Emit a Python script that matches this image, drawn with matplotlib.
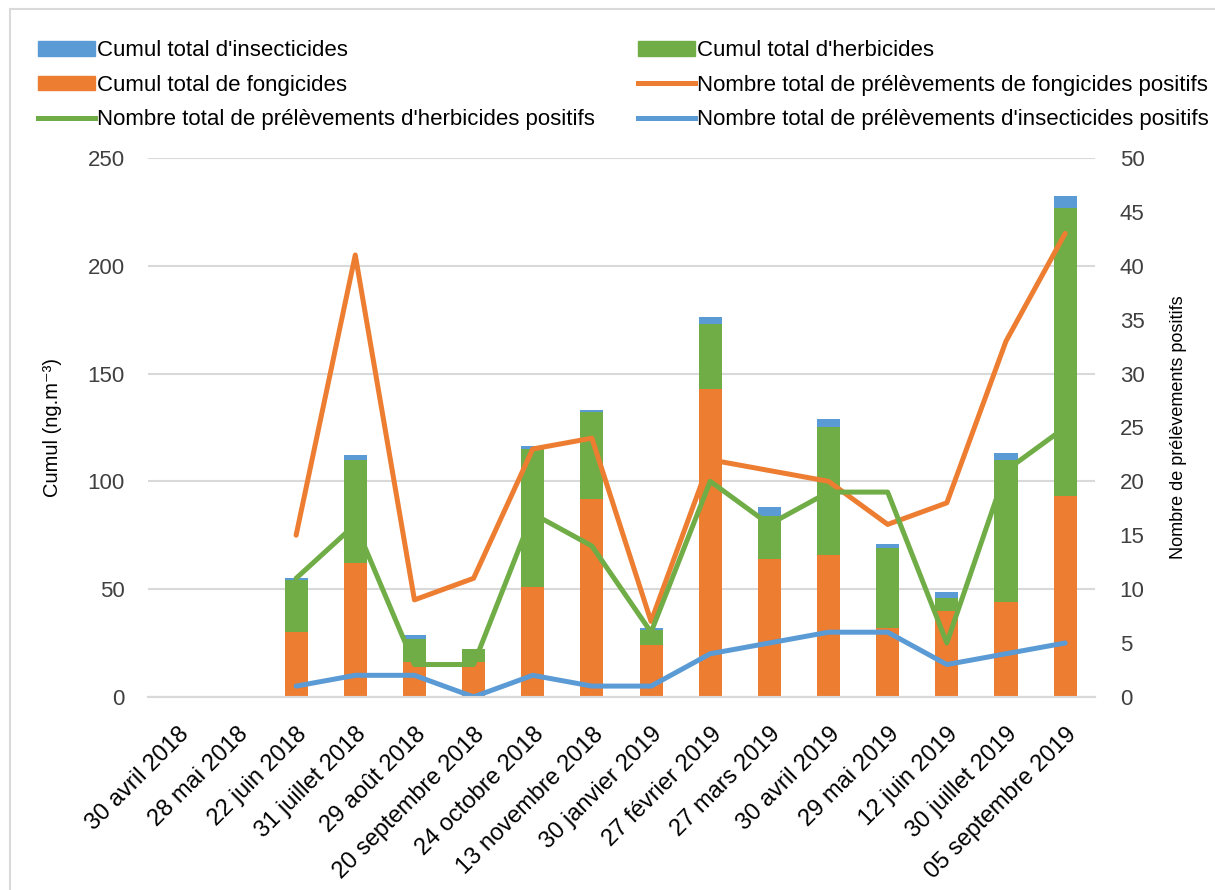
"""
Cumul des pesticides et nombre de prélèvements positifs (2018-2019)
"""

import numpy as np
import matplotlib
matplotlib.use('Agg')
import matplotlib.pyplot as plt
from matplotlib.patches import Patch, Rectangle
from matplotlib.lines import Line2D

plt.rcParams['font.family'] = ['Liberation Sans', 'DejaVu Sans']

# dates de prélèvement
dates = ["30 avril 2018", "28 mai 2018", "22 juin 2018", "31 juillet 2018",
         "29 août 2018", "20 septembre 2018", "24 octobre 2018", "13 novembre 2018",
         "30 janvier 2019", "27 février 2019", "27 mars 2019", "30 avril 2019",
         "29 mai 2019", "12 juin 2019", "30 juillet 2019", "05 septembre 2019"]

# cumuls (ng.m-3)
fongicides = [0, 0, 30, 62, 16, 16, 51, 92, 24, 143, 64, 66, 32, 40, 44, 93]
herbicides = [0, 0, 24, 48, 11, 6, 64, 40, 7, 30, 20, 59, 37, 6, 66, 134]
insecticides = [0, 0, 1.2, 2, 1.7, 0, 1.2, 1, 0.8, 3, 4.2, 4.1, 2, 2.5, 3.1, 5.3]

# nombre de prélèvements positifs
nb_fong = [np.nan, np.nan, 15, 41, 9, 11, 23, 24, 7, 22, 21, 20, 16, 18, 33, 43]
nb_herb = [np.nan, np.nan, 11, 16, 3, 3, 17, 14, 6, 20, 16, 19, 19, 5, 21, 25]
nb_insect = [np.nan, np.nan, 1, 2, 2, 0, 2, 1, 1, 4, 5, 6, 6, 3, 4, 5]

BLEU = '#5B9BD5'
ORANGE = '#ED7D31'
VERT = '#70AD47'
GRIS = '#404040'

fig = plt.figure(figsize=(12.15, 8.9), dpi=100)
ax = fig.add_axes([0.122, 0.217, 0.779, 0.6055])
ax2 = ax.twinx()

x = np.arange(len(dates))
f = np.array(fongicides)
h = np.array(herbicides)
ins = np.array(insecticides)
w = 0.39
ax.bar(x, f, width=w, color=ORANGE, zorder=2)
ax.bar(x, h, width=w, bottom=f, color=VERT, zorder=2)
ax.bar(x, ins, width=w, bottom=f + h, color=BLEU, zorder=2)

lw = 3.6
for serie, c in ((nb_fong, ORANGE), (nb_herb, VERT), (nb_insect, BLEU)):
    ax2.plot(x, serie, color=c, lw=lw, solid_capstyle='round', solid_joinstyle='round')

ax.set_xlim(-0.5, len(dates) - 0.5)
ax.set_ylim(0, 250)
ax.set_yticks(range(0, 251, 50))
ax2.set_ylim(0, 50)
ax2.set_yticks(range(0, 51, 5))

ax.grid(axis='y', color='#D9D9D9', lw=1.5, zorder=0)
ax.set_axisbelow(True)
for a in (ax, ax2):
    for s in ('top', 'left', 'right'):
        a.spines[s].set_visible(False)
    a.spines['bottom'].set_color('#D9D9D9')
    a.spines['bottom'].set_linewidth(1.5)
    a.tick_params(length=0, labelsize=16, colors=GRIS)

ax.set_xticks(x)
ax.set_xticklabels(dates, rotation=45, ha='right', rotation_mode='anchor', fontsize=17, color='black')
ax.tick_params(axis='x', pad=19)
ax.tick_params(axis='y', pad=17)
ax2.tick_params(axis='y', pad=18)

ax.set_ylabel("Cumul (ng.m⁻³)", fontsize=14.5, color='black')
ax.yaxis.set_label_coords(-0.091, 0.5)
ax2.set_ylabel("Nombre de prélèvements positifs", fontsize=13, color='black')
ax2.yaxis.set_label_coords(1.08, 0.5)

# légende en deux colonnes
col1 = [Patch(color=BLEU), Patch(color=ORANGE), Line2D([], [], color=VERT, lw=lw)]
lab1 = ["Cumul total d'insecticides", "Cumul total de fongicides",
        "Nombre total de prélèvements d'herbicides positifs"]
col2 = [Patch(color=VERT), Line2D([], [], color=ORANGE, lw=lw), Line2D([], [], color=BLEU, lw=lw)]
lab2 = ["Cumul total d'herbicides", "Nombre total de prélèvements de fongicides positifs",
        "Nombre total de prélèvements d'insecticides positifs"]
kw = dict(frameon=False, fontsize=16, handlelength=2.57, handleheight=0.63,
          handletextpad=0.1, labelspacing=0.61, loc='upper left',
          borderpad=0, borderaxespad=0)
fig.legend(col1, lab1, bbox_to_anchor=(0.031, 0.955), **kw)
fig.legend(col2, lab2, bbox_to_anchor=(0.525, 0.955), **kw)

# cadre du graphique
fig.patches.append(Rectangle((0.008, -0.01), 1.2, 1.0, transform=fig.transFigure,
                             fill=False, edgecolor='#D9D9D9', lw=1.5))

fig.savefig('out.png', dpi=100, facecolor='white')
